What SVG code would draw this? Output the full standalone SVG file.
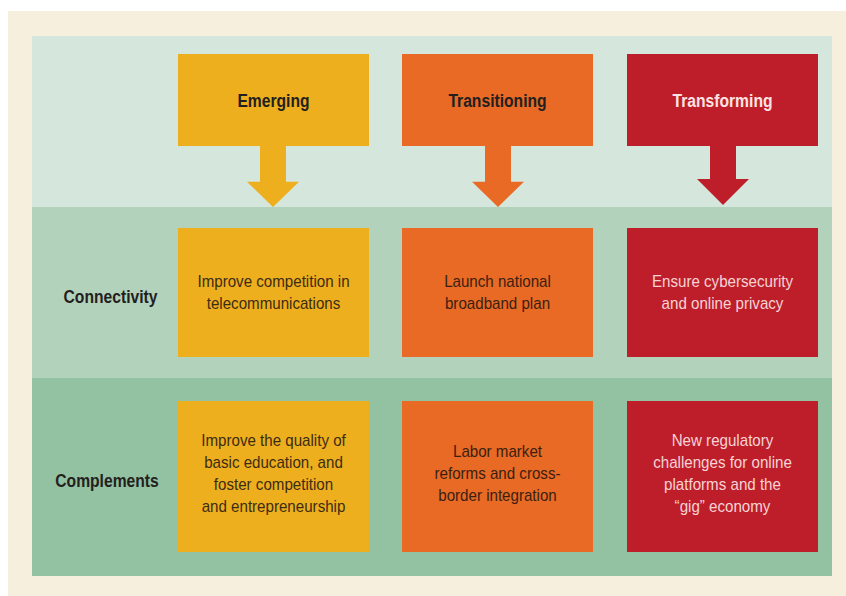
<svg xmlns="http://www.w3.org/2000/svg" width="846" height="596" viewBox="0 0 846 596">
<style>
.hd{font-family:"Liberation Sans",Arial,sans-serif;font-weight:bold;font-size:18px;fill:#231f20;text-anchor:middle}
.hdw{fill:#fbe3e3}
.lb{font-family:"Liberation Sans",Arial,sans-serif;font-weight:bold;font-size:18px;fill:#231f20;text-anchor:middle}
.bt{font-family:"Liberation Sans",Arial,sans-serif;font-size:17px;text-anchor:middle}
.ty{fill:#3d2c14}
.to{fill:#3b1f12}
.tr{fill:#f6d3d5}
.y{fill:#edaf1e}
.o{fill:#e86a25}
.r{fill:#be1e2a}
</style>
<rect x="8" y="11" width="838" height="585" fill="#f6efdd"/>
<rect x="32" y="36" width="800" height="171" fill="#d5e7dc"/>
<rect x="32" y="207" width="800" height="171" fill="#b3d2bc"/>
<rect x="32" y="378" width="800" height="198" fill="#93c2a2"/>

<g id="label-connectivity"><text class="lb" transform="translate(110.5,303) scale(0.87,1)">Connectivity</text></g>
<g id="label-complements"><text class="lb" transform="translate(107,487) scale(0.87,1)">Complements</text></g>

<g id="connectors">
<path class="y" d="M260,145 H286 V181.7 H299 L273,207 L247,181.7 H260 Z"/>
<path class="o" d="M485,145 H511 V181.7 H524 L498,207 L472,181.7 H485 Z"/>
<path class="r" d="M710,145 H736 V179 H749 L723,205 L697,179 H710 Z"/>
</g>

<g id="emerging"><rect class="y" x="178" y="54" width="191" height="92"/><text class="hd" transform="translate(273.5,106.5) scale(0.87,1)">Emerging</text></g>
<g id="transitioning"><rect class="o" x="402" y="54" width="191" height="92"/><text class="hd" transform="translate(497.5,106.5) scale(0.87,1)">Transitioning</text></g>
<g id="transforming"><rect class="r" x="627" y="54" width="191" height="92"/><text class="hd hdw" transform="translate(722.5,106.5) scale(0.87,1)">Transforming</text></g>

<g id="conn-emerging"><rect class="y" x="178" y="228" width="191" height="129"/>
<g transform="translate(273.5,0) scale(0.89,1)"><text class="bt ty" x="0" y="287">Improve competition in</text><text class="bt ty" x="0" y="309">telecommunications</text></g></g>
<g id="conn-transitioning"><rect class="o" x="402" y="228" width="191" height="129"/>
<g transform="translate(497.5,0) scale(0.89,1)"><text class="bt to" x="0" y="287">Launch national</text><text class="bt to" x="0" y="309">broadband plan</text></g></g>
<g id="conn-transforming"><rect class="r" x="627" y="228" width="191" height="129"/>
<g transform="translate(722.5,0) scale(0.89,1)"><text class="bt tr" x="0" y="287">Ensure cybersecurity</text><text class="bt tr" x="0" y="309">and online privacy</text></g></g>

<g id="comp-emerging"><rect class="y" x="178" y="401" width="191" height="151"/>
<g transform="translate(273.5,0) scale(0.89,1)"><text class="bt ty" x="0" y="446">Improve the quality of</text><text class="bt ty" x="0" y="468">basic education, and</text><text class="bt ty" x="0" y="490.5">foster competition</text><text class="bt ty" x="0" y="512.5">and entrepreneurship</text></g></g>
<g id="comp-transitioning"><rect class="o" x="402" y="401" width="191" height="151"/>
<g transform="translate(497.5,0) scale(0.89,1)"><text class="bt to" x="0" y="457">Labor market</text><text class="bt to" x="0" y="479">reforms and cross-</text><text class="bt to" x="0" y="501">border integration</text></g></g>
<g id="comp-transforming"><rect class="r" x="627" y="401" width="191" height="151"/>
<g transform="translate(722.5,0) scale(0.89,1)"><text class="bt tr" x="0" y="446">New regulatory</text><text class="bt tr" x="0" y="468">challenges for online</text><text class="bt tr" x="0" y="490.5">platforms and the</text><text class="bt tr" x="0" y="512.5">“gig” economy</text></g></g>
</svg>
